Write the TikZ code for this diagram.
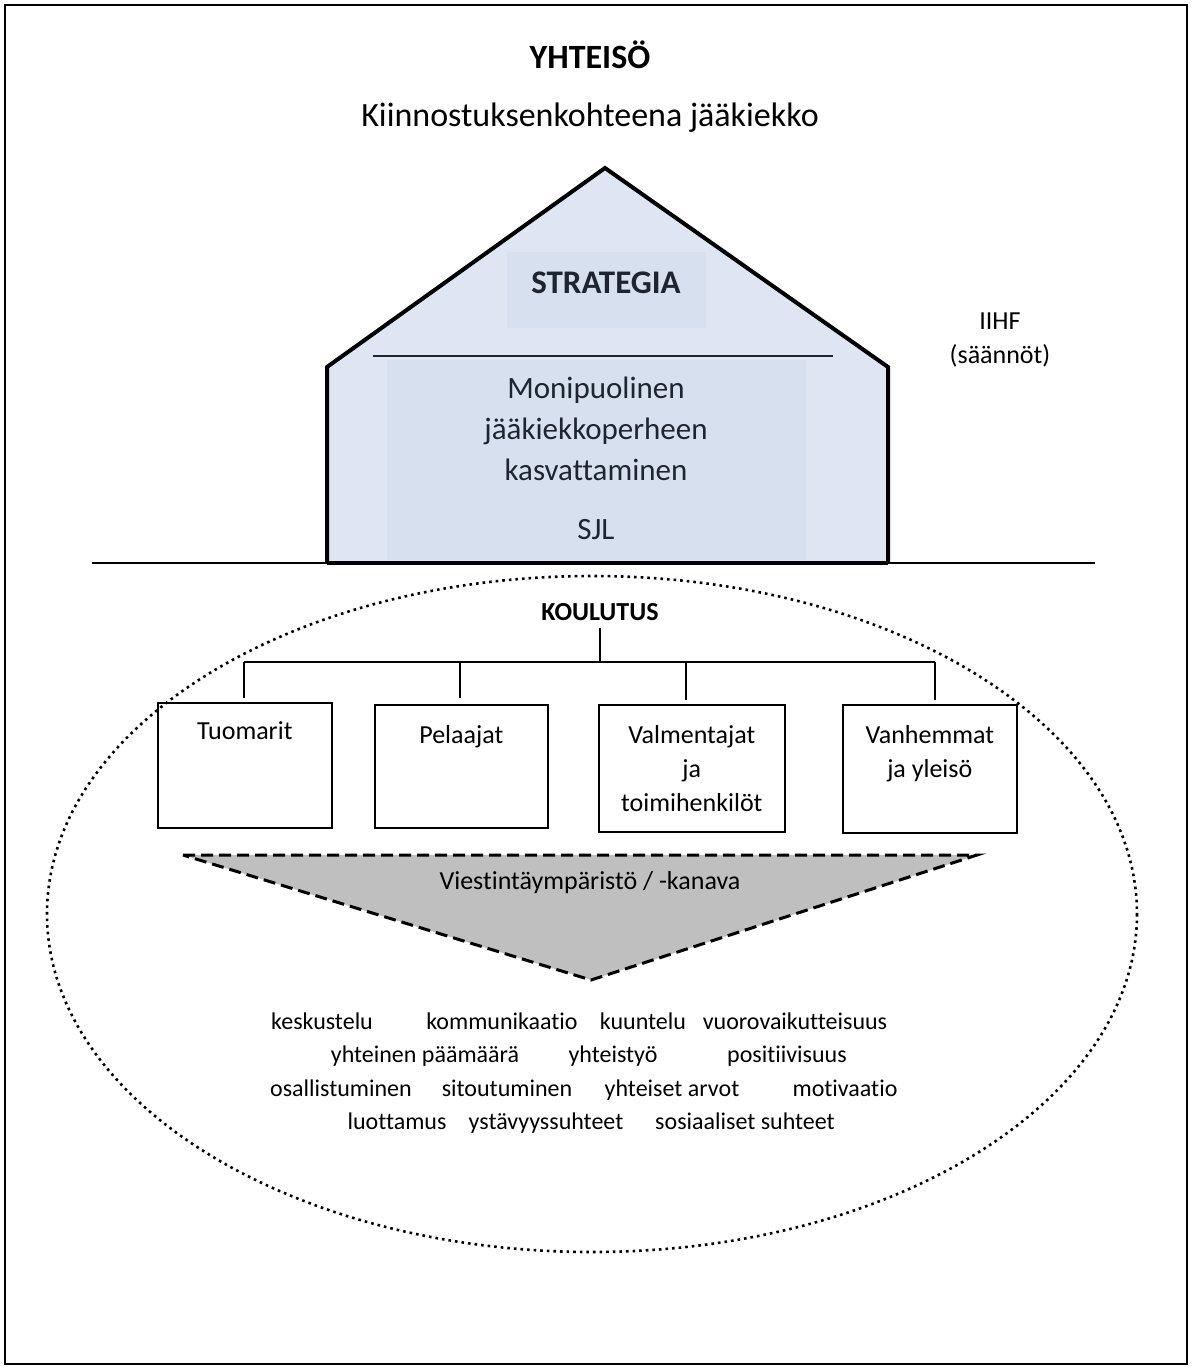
\documentclass[tikz,border=0pt]{standalone}
\usepackage{fontspec}
\setmainfont[Ligatures=NoCommon]{Carlito}
\usepackage{tikz}
\usetikzlibrary{positioning}
\usetikzlibrary{calc}
\definecolor{housefill}{RGB}{221,230,242}
\definecolor{innerfill}{RGB}{214,224,239}
\definecolor{housetext}{RGB}{30,36,48}
\definecolor{funnelfill}{RGB}{191,191,191}
\tikzset{
	ryhma/.style = {draw, line width = 0.8pt, rectangle, anchor = north west, inner sep = 0pt},
	ryhmateksti/.style = {font = \fontsize{13}{17}\selectfont, align = center, anchor = north},
	sana/.style = {font = \fontsize{12}{14}\selectfont, inner sep = 0pt, anchor = base},
	haara/.style = {line width = 1.2pt}
}

\begin{document}
\begin{tikzpicture}[x = 0.5pt, y = -0.5pt]
		\useasboundingbox (0,0) rectangle (1192,1367);
		\draw[line width = 1pt] (5,5) rectangle (1187,1364);
		% otsikot
		\node[font = \fontsize{17}{20}\selectfont\bfseries] at (590,55) (yhteiso) {YHTEISÖ};
		\node[font = \fontsize{17}{20}\selectfont] at (590,118) (kiinnostus) {Kiinnostuksenkohteena jääkiekko};
		% talo
		\coordinate (harja) at (605,168);
		\coordinate (vasenra) at (327,367);
		\coordinate (oikeara) at (888,367);
		\coordinate (vasenpohja) at (327,563);
		\coordinate (oikeapohja) at (888,563);
		\fill[housefill] (vasenpohja) -- (vasenra) -- (harja) -- (oikeara) -- (oikeapohja) -- cycle;
		\fill[innerfill] (507,252) rectangle (706,328);
		\fill[innerfill] (387,360) rectangle (806,560);
		\draw[line width = 2pt, line join = miter] (vasenpohja) -- (vasenra) -- (harja) -- (oikeara) -- (oikeapohja);
		\draw[line width = 0.8pt, housetext] (373,356) -- (833,356);
		\node[font = \fontsize{16.5}{20}\selectfont\bfseries, text = housetext] at (606,283) (strategia) {STRATEGIA};
		\node[font = \fontsize{15.5}{20.5}\selectfont, text = housetext, align = center, anchor = north] at (596,370) (tavoite) {Monipuolinen\\jääkiekkoperheen\\kasvattaminen};
		\node[font = \fontsize{15.5}{20}\selectfont, text = housetext] at (596,530) (sjl) {SJL};
		\draw[line width = 1.2pt] (92,563) -- (1095,563);
		\draw[line width = 2pt] (vasenpohja) -- (oikeapohja);
		\node[font = \fontsize{13}{17}\selectfont, align = center] at (1000,340) (iihf) {IIHF\\(säännöt)};
		% koulutus
		\draw[line width = 1.3pt, dotted] (592,914) ellipse (545 and 338);
		\node[font = \fontsize{13}{16}\selectfont\bfseries] at (600,612) (koulutus) {KOULUTUS};
		\node[ryhma, minimum width = 87pt, minimum height = 62.5pt] at (157,702) (tuomarit) {};
		\node[ryhma, minimum width = 86.5pt, minimum height = 61.5pt] at (374,704) (pelaajat) {};
		\node[ryhma, minimum width = 93pt, minimum height = 63.5pt] at (598,704) (valmentajat) {};
		\node[ryhma, minimum width = 87pt, minimum height = 64pt] at (842,704) (vanhemmat) {};
		\node[ryhmateksti] at ($(tuomarit.north)+(0,13)$) {Tuomarit};
		\node[ryhmateksti] at ($(pelaajat.north)+(0,14)$) {Pelaajat};
		\node[ryhmateksti] at ($(valmentajat.north)+(0,14)$) {Valmentajat\\ja\\toimihenkilöt};
		\node[ryhmateksti] at ($(vanhemmat.north)+(0,14)$) {Vanhemmat\\ja yleisö};
		\coordinate (jako) at (600,662);
		\draw[haara] (koulutus.south) -- (jako);
		\draw[haara] (244,662) -- (935,662);
		\draw[haara] (244,662) -- (244,698);
		\draw[haara] (460,662) -- (460,698);
		\draw[haara] (686,662) -- (686,700);
		\draw[haara] (935,662) -- (935,700);
		% viestinta
		\draw[line width = 1.5pt, fill = funnelfill, dash pattern = on 6pt off 3pt] (183,855) -- (977,855) -- (591,980) -- cycle;
		\node[font = \fontsize{13}{16}\selectfont] at (590,883) (viestinta) {Viestintäympäristö / -kanava};
		% sanat
		\node[sana] at (322,1029) (keskustelu) {keskustelu};
		\node[sana] at (502,1029) (kommunikaatio) {kommunikaatio};
		\node[sana] at (643,1029) (kuuntelu) {kuuntelu};
		\node[sana] at (795,1029) (vuorovaikutus) {vuorovaikutteisuus};
		\node[sana] at (425,1062) (paamaara) {yhteinen päämäärä};
		\node[sana] at (613,1062) (yhteistyo) {yhteistyö};
		\node[sana] at (787,1062) (positiivisuus) {positiivisuus};
		\node[sana] at (341,1096) (osallistuminen) {osallistuminen};
		\node[sana] at (507,1096) (sitoutuminen) {sitoutuminen};
		\node[sana] at (672,1096) (arvot) {yhteiset arvot};
		\node[sana] at (845,1096) (motivaatio) {motivaatio};
		\node[sana] at (397,1129) (luottamus) {luottamus};
		\node[sana] at (546,1129) (ystavyys) {ystävyyssuhteet};
		\node[sana] at (745,1129) (sosiaaliset) {sosiaaliset suhteet};
	\end{tikzpicture}
\end{document}
